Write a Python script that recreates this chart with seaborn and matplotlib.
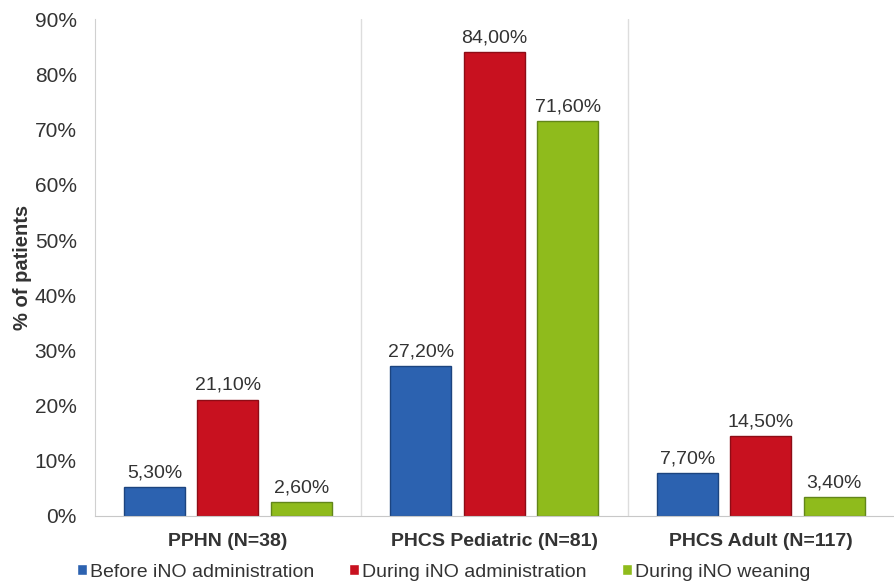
import pandas as pd
import seaborn as sns
import matplotlib.pyplot as plt
from matplotlib.ticker import FuncFormatter

# values (% of patients)
groups = ["PPHN (N=38)", "PHCS Pediatric (N=81)", "PHCS Adult (N=117)"]
phases = ["Before iNO administration", "During iNO administration", "During iNO weaning"]
before_ino = [5.3, 27.2, 7.7]
during_ino = [21.1, 84.0, 14.5]
weaning_ino = [2.6, 71.6, 3.4]

colors = ["#2c62b0", "#c8111f", "#8fbb1c"]
edges = ["#1c447f", "#8e0c16", "#62861a"]

df = pd.DataFrame({
    "group": groups * 3,
    "phase": [phases[0]] * 3 + [phases[1]] * 3 + [phases[2]] * 3,
    "value": before_ino + during_ino + weaning_ino,
})

sns.set_style("white")
plt.rcParams['font.family'] = ['Liberation Sans', 'DejaVu Sans']

fig, ax = plt.subplots(figsize=(8.94, 5.85), dpi=100)
fig.subplots_adjust(left=0.106, right=1.0, bottom=0.118, top=0.967)

sns.barplot(data=df, x="group", y="value", hue="phase", order=groups,
            hue_order=phases, palette=colors, width=0.827, gap=0.17,
            saturation=1, ax=ax)

for cont, ec in zip(ax.containers, edges):
    for p in cont:
        p.set_edgecolor(ec)
        p.set_linewidth(1.0)
    ax.bar_label(cont, labels=[f"{v:.2f}".replace(".", ",") + "%" for v in cont.datavalues],
                 padding=4, fontsize=14, color="#333333")

ax.set_ylim(0, 90)
ax.set_xlim(-0.5, 2.5)
ax.set_yticks(range(0, 91, 10))
ax.yaxis.set_major_formatter(FuncFormatter(lambda v, pos: f"{int(v)}%"))
ax.tick_params(axis="y", labelsize=15, colors="#333333", length=0, pad=13)
ax.tick_params(axis="x", length=0, pad=12)
for lab in ax.get_xticklabels():
    lab.set_fontsize(14)
    lab.set_fontweight("bold")
    lab.set_color("#333333")

# group separators
for xs in [0.5, 1.5]:
    ax.axvline(xs, color="#dddddd", lw=1, zorder=0)

for s in ["top", "right"]:
    ax.spines[s].set_visible(False)
ax.spines["left"].set_color("#d0d0d0")
ax.spines["bottom"].set_color("#c8c8c8")

ax.set_xlabel("")
ax.set_ylabel("% of patients", fontsize=14.5, fontweight="bold", color="#333333")
ax.yaxis.set_label_coords(-0.078, 0.5)

ax.legend(loc="center left", bbox_to_anchor=(-0.0225, -0.113), ncol=3, frameon=False,
          borderpad=0, borderaxespad=0,
          fontsize=14, handlelength=0.52, handleheight=0.52, handletextpad=0.15,
          columnspacing=1.8, labelcolor="#333333")

fig.savefig("out.png", dpi=100)
